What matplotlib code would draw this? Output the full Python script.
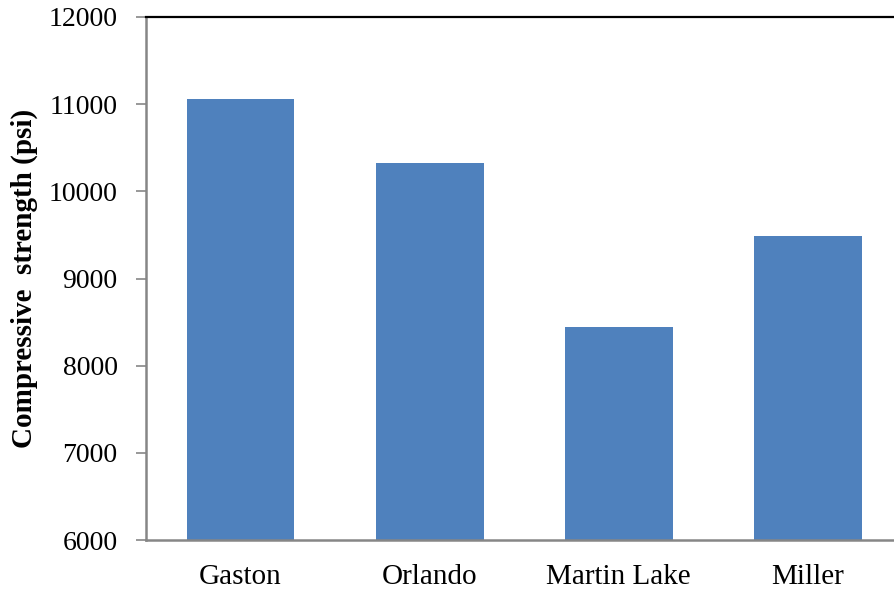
import matplotlib
matplotlib.use("Agg")
import matplotlib.pyplot as plt

plants = ["Gaston", "Orlando", "Martin Lake", "Miller"]
strength_psi = [11060, 10320, 8440, 9490]
y_ticks = [6000, 7000, 8000, 9000, 10000, 11000, 12000]

plt.rcParams["font.family"] = ["Liberation Serif", "DejaVu Serif"]

fig = plt.figure(figsize=(8.94, 5.92), dpi=100)
ax = fig.add_axes([146 / 894, 1 - 540 / 592, 756.5 / 894, 523 / 592])

x = range(len(plants))
ax.bar(x, strength_psi, width=0.57, color="#4F81BD", zorder=2)

ax.set_xlim(-0.5, 3.5)
ax.set_ylim(6000, 12000)
ax.set_yticks(y_ticks)
ax.set_yticklabels([str(v) for v in y_ticks], fontsize=20)
ax.set_xticks(list(x))
ax.set_xticklabels(plants, fontsize=21)

ax.tick_params(axis="y", direction="out", length=7.5, width=1.2, color="#868686", pad=13)
ax.tick_params(axis="x", length=0, pad=17)

ax.spines["left"].set_color("#868686")
ax.spines["left"].set_linewidth(1.8)
ax.spines["bottom"].set_color("#868686")
ax.spines["bottom"].set_linewidth(1.8)
ax.spines["top"].set_color("black")
ax.spines["top"].set_linewidth(1.6)
ax.spines["right"].set_visible(False)

ax.set_ylabel("Compressive  strength (psi)", fontsize=21, fontweight="bold")
ax.yaxis.set_label_coords(-(146 - 38) / 756.5, 0.5)

fig.savefig("out.png", dpi=100)
